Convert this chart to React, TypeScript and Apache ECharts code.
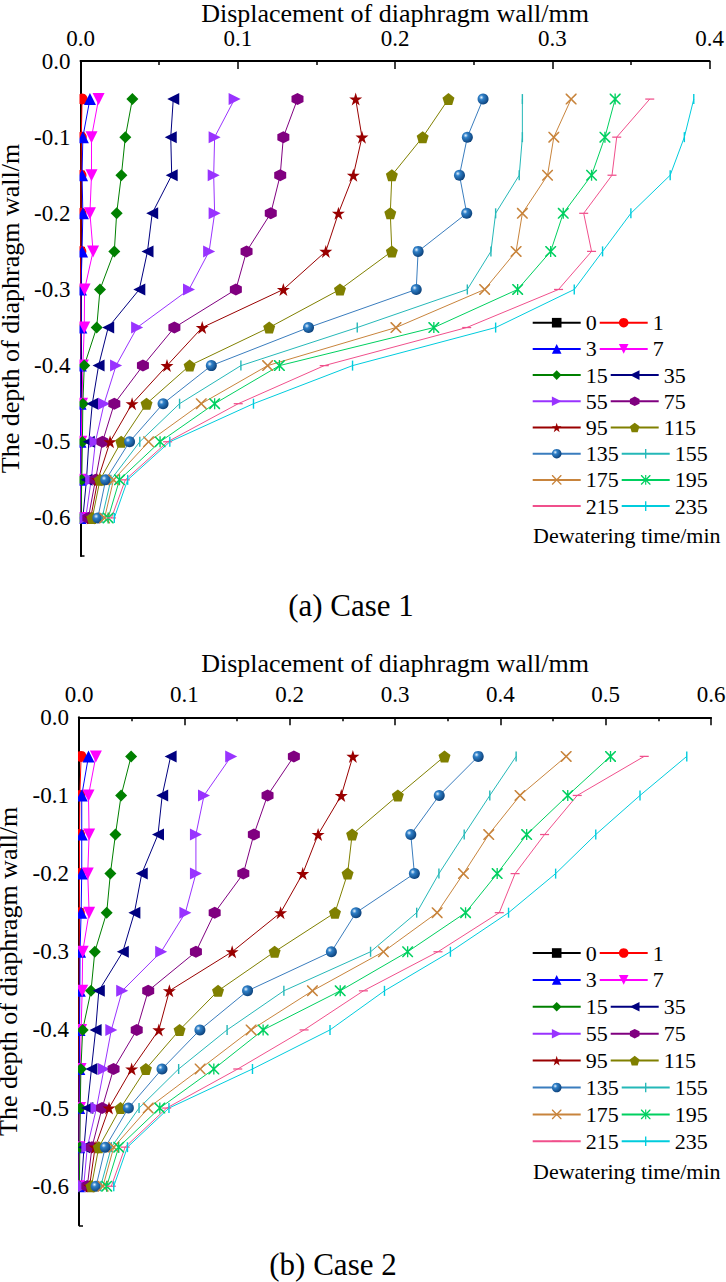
import React, { useEffect, useRef } from 'react';
import * as echarts from 'echarts';

// ---------- data ----------
const DEPTHS = [-0.05, -0.1, -0.15, -0.2, -0.25, -0.3, -0.35, -0.4, -0.45, -0.5, -0.55, -0.6];
const TIMES = ['0', '1', '3', '7', '15', '35', '55', '75', '95', '115', '135', '155', '175', '195', '215', '235'];
const CASE1_XMAX = 0.4;
const CASE2_XMAX = 0.6;
const X_NAME = 'Displacement of diaphragm wall/mm';
const Y_NAME = 'The depth of diaphragm wall/m';
const LEGEND_TITLE = 'Dewatering time/min';
const CAPTIONS = ['(a) Case 1', '(b) Case 2'];

// Case 1 (displacement in mm at each depth)
const c1_0 = [0, 0, 0, 0, 0, 0, 0, 0, 0, 0, 0, 0];
const c1_1 = [0.001, 0.0005, 0.0003, 0.0003, 0.0002, 0.0001, 0.0001, 0, 0, 0, 0, 0];
const c1_3 = [0.006, 0.0015, 0.001, 0.0015, 0.001, 0.0003, 0.0005, 0.0002, 0.0001, 0, 0, 0];
const c1_7 = [0.0115, 0.007, 0.007, 0.006, 0.008, 0.0026, 0.0024, 0.0015, 0.001, 0.0005, 0.0003, 0.0001];
const c1_15 = [0.033, 0.0285, 0.026, 0.023, 0.0215, 0.0124, 0.0103, 0.0024, 0.0015, 0.0012, 0.0008, 0.0003];
const c1_35 = [0.059, 0.0574, 0.058, 0.0456, 0.0426, 0.0374, 0.0176, 0.0115, 0.0075, 0.0053, 0.0038, 0.0015];
const c1_55 = [0.098, 0.0853, 0.0847, 0.0853, 0.0818, 0.069, 0.036, 0.0226, 0.015, 0.0095, 0.0068, 0.0033];
const c1_75 = [0.138, 0.129, 0.127, 0.121, 0.1056, 0.0988, 0.0597, 0.0397, 0.0215, 0.014, 0.0095, 0.005];
const c1_95 = [0.175, 0.179, 0.1735, 0.164, 0.156, 0.129, 0.0774, 0.055, 0.0328, 0.0188, 0.011, 0.0065];
const c1_115 = [0.234, 0.2176, 0.198, 0.197, 0.198, 0.165, 0.12, 0.0694, 0.042, 0.0259, 0.0124, 0.0075];
const c1_135 = [0.256, 0.246, 0.241, 0.2456, 0.2147, 0.2135, 0.145, 0.0832, 0.0525, 0.0312, 0.016, 0.011];
const c1_155 = [0.281, 0.281, 0.279, 0.264, 0.261, 0.246, 0.176, 0.102, 0.063, 0.0377, 0.0193, 0.0137];
const c1_175 = [0.312, 0.301, 0.297, 0.281, 0.277, 0.257, 0.2006, 0.119, 0.0768, 0.0433, 0.021, 0.0153];
const c1_195 = [0.34, 0.3335, 0.325, 0.307, 0.299, 0.278, 0.2247, 0.1265, 0.0853, 0.0506, 0.0248, 0.0176];
const c1_215 = [0.362, 0.341, 0.338, 0.32, 0.325, 0.304, 0.2456, 0.155, 0.1003, 0.0554, 0.0285, 0.0197];
const c1_235 = [0.39, 0.384, 0.375, 0.35, 0.332, 0.314, 0.264, 0.173, 0.11, 0.0568, 0.03, 0.0215];

// Case 2
const c2_0 = [0, 0, 0, 0, 0, 0, 0, 0, 0, 0, 0, 0];
const c2_1 = [0.002, 0.0008, 0.0005, 0.0004, 0.0003, 0.0002, 0.0001, 0, 0, 0, 0, 0];
const c2_3 = [0.009, 0.0026, 0.0026, 0.0026, 0.002, 0.001, 0.0008, 0.0005, 0.0003, 0.0002, 0.0001, 0];
const c2_7 = [0.016, 0.009, 0.0096, 0.0083, 0.0096, 0.0035, 0.003, 0.002, 0.0015, 0.001, 0.0005, 0.0002];
const c2_15 = [0.0495, 0.04, 0.0346, 0.0298, 0.0263, 0.015, 0.0114, 0.0035, 0.0018, 0.0012, 0.0008, 0.0003];
const c2_35 = [0.087, 0.079, 0.075, 0.0596, 0.0526, 0.0416, 0.0188, 0.0158, 0.0118, 0.0079, 0.0048, 0.0022];
const c2_55 = [0.1445, 0.1187, 0.111, 0.111, 0.101, 0.078, 0.041, 0.0307, 0.0237, 0.0166, 0.0079, 0.0044];
const c2_75 = [0.204, 0.179, 0.166, 0.156, 0.1288, 0.111, 0.0657, 0.0548, 0.0328, 0.0219, 0.0123, 0.0079];
const c2_95 = [0.26, 0.249, 0.227, 0.2124, 0.1914, 0.1454, 0.0858, 0.0758, 0.05, 0.0285, 0.0153, 0.01];
const c2_115 = [0.347, 0.3027, 0.2593, 0.255, 0.243, 0.1857, 0.132, 0.0955, 0.0635, 0.0394, 0.0188, 0.0118];
const c2_135 = [0.379, 0.342, 0.315, 0.3184, 0.263, 0.2396, 0.16, 0.1148, 0.0788, 0.0469, 0.025, 0.0162];
const c2_155 = [0.415, 0.39, 0.3657, 0.3417, 0.3206, 0.2768, 0.1945, 0.1406, 0.0946, 0.057, 0.0307, 0.0206];
const c2_175 = [0.4625, 0.4187, 0.389, 0.365, 0.34, 0.289, 0.2216, 0.1634, 0.115, 0.0657, 0.033, 0.0228];
const c2_195 = [0.5046, 0.464, 0.425, 0.397, 0.367, 0.312, 0.248, 0.1748, 0.128, 0.0767, 0.0377, 0.0263];
const c2_215 = [0.5366, 0.473, 0.442, 0.414, 0.399, 0.3408, 0.27, 0.2137, 0.1507, 0.0832, 0.0438, 0.0307];
const c2_235 = [0.577, 0.5326, 0.4906, 0.4525, 0.4078, 0.3526, 0.29, 0.2383, 0.1647, 0.0854, 0.046, 0.033];

const CASE1 = [c1_0, c1_1, c1_3, c1_7, c1_15, c1_35, c1_55, c1_75, c1_95, c1_115, c1_135, c1_155, c1_175, c1_195, c1_215, c1_235];
const CASE2 = [c2_0, c2_1, c2_3, c2_7, c2_15, c2_35, c2_55, c2_75, c2_95, c2_115, c2_135, c2_155, c2_175, c2_195, c2_215, c2_235];

// ---------- styles ----------
const FONT = 'Liberation Serif, Times New Roman, DejaVu Serif, serif';

const COLORS = [
  '#000000', '#FF0000', '#0000FF', '#FF00FF', '#008000', '#000080', '#9933FF', '#800080',
  '#990000', '#808000', '#3A7DBE', '#25B8B8', '#C8843C', '#00D060', '#F0508C', '#00CCDD',
];

const P_TRI_DOWN = 'path://M0,0L10,0L5,10Z';
const P_TRI_LEFT = 'path://M10,0L10,10L0,5Z';
const P_TRI_RIGHT = 'path://M0,0L10,5L0,10Z';
const P_HEX = 'path://M5,0L9.33,2.5L9.33,7.5L5,10L0.67,7.5L0.67,2.5Z';
const P_PENT = 'path://M5,0L10,3.8L8.1,10L1.9,10L0,3.8Z';
const P_STAR = 'path://M5,0L6.12,3.45L9.76,3.45L6.82,5.59L7.94,9.05L5,6.91L2.06,9.05L3.18,5.59L0.24,3.45L3.88,3.45Z';
const P_VBAR = 'path://M0,0L0,0M10,10L10,10M4.3,0H5.7V10H4.3Z';
const P_HBAR = 'path://M0,0L0,0M10,10L10,10M0,4.3H10V5.7H0Z';
const P_X = 'path://M0,0L1,0L5,4L9,0L10,0L10,1L6,5L10,9L10,10L9,10L5,6L1,10L0,10L0,9L4,5L0,1Z';
const P_AST = 'path://M0,0L1,0L5,4L9,0L10,0L10,1L6,5L10,9L10,10L9,10L5,6L1,10L0,10L0,9L4,5L0,1Z M4.4,0H5.6V10H4.4Z';

const SYMBOLS = [
  'rect', 'circle', 'triangle', P_TRI_DOWN, 'diamond', P_TRI_LEFT, P_TRI_RIGHT, P_HEX,
  P_STAR, P_PENT, 'circle', P_VBAR, P_X, P_AST, P_HBAR, P_VBAR,
];
const SIZES = [9, 11, 12, 12, 12, 12, 12, 12, 13, 12, 11, 10, 11, 11, 9, 10];

const sphere = {
  type: 'radial', x: 0.35, y: 0.35, r: 0.7,
  colorStops: [
    { offset: 0, color: '#e8f4ff' },
    { offset: 0.3, color: '#2f80c8' },
    { offset: 1, color: '#0b3f78' },
  ],
};

const GRIDS = [
  { left: 80.5, top: 61, width: 629, height: 495, outerBoundsMode: 'none', containLabel: false },
  { left: 79, top: 717.3, width: 632, height: 508, outerBoundsMode: 'none', containLabel: false },
];
const X_NAME_GAPS = [35, 41];
const Y_NAME_GAPS = [51, 50];
const LEGEND_LEFT = 531.7;
const LEGEND_ROWS = [
  { base: 322.7, step: 26.2, title: 535 },
  { base: 953, step: 26.9, title: 1171 },
];

function buildOption() {
  const xAxis = [CASE1_XMAX, CASE2_XMAX].map((mx, i) => ({
    type: 'value', gridIndex: i, position: 'top', min: 0, max: mx, interval: 0.1,
    name: X_NAME, nameLocation: 'middle', nameGap: X_NAME_GAPS[i],
    nameTextStyle: { fontSize: 26, color: '#000', fontFamily: FONT },
    axisLine: { show: true, lineStyle: { color: '#000', width: 2 } },
    axisTick: { show: true, inside: true, length: 8, lineStyle: { color: '#000', width: 1.5 } },
    minorTick: { show: true, splitNumber: 2, length: 4, lineStyle: { color: '#000', width: 1.5 } },
    splitLine: { show: false },
    minorSplitLine: { show: false },
    axisLabel: { fontSize: 23, color: '#000', fontFamily: FONT, margin: 11, formatter: (v: number) => v.toFixed(1) },
  }));
  const yAxis = [0, 1].map((i) => ({
    type: 'value', gridIndex: i, min: -0.65, max: 0, interval: 0.05,
    name: Y_NAME, nameLocation: 'middle', nameGap: Y_NAME_GAPS[i],
    nameTextStyle: { fontSize: 26, color: '#000', fontFamily: FONT },
    axisLine: { show: true, lineStyle: { color: '#000', width: 2 } },
    axisTick: { show: true, inside: true, length: 4, lineStyle: { color: '#000', width: 1.5 } },
    splitLine: { show: false },
    axisLabel: {
      fontSize: 23, color: '#000', fontFamily: FONT, margin: 10,
      formatter: (v: number) => (Math.abs(Math.round(v * 100)) % 10 === 0 ? v.toFixed(1) : ''),
    },
  }));

  const series: any[] = [];
  [CASE1, CASE2].forEach((cs, p) => {
    cs.forEach((vals, j) => {
      series.push({
        type: 'line',
        name: TIMES[j],
        xAxisIndex: p,
        yAxisIndex: p,
        data: DEPTHS.map((d, k) => [vals[k], d]),
        symbol: SYMBOLS[j],
        symbolSize: SIZES[j],
        showSymbol: true,
        itemStyle: { color: j === 10 ? sphere : COLORS[j] },
        lineStyle: { color: COLORS[j], width: 1 },
        emphasis: { disabled: true },
        animation: false,
      });
    });
  });

  const legend: any[] = [];
  LEGEND_ROWS.forEach((lr) => {
    for (let r = 0; r < 8; r++) {
      legend.push({
        data: [TIMES[2 * r], TIMES[2 * r + 1]],
        left: LEGEND_LEFT,
        top: lr.base + lr.step * r - 11,
        orient: 'horizontal',
        itemWidth: 48,
        itemHeight: 12,
        itemGap: 2,
        padding: 0,
        selectedMode: false,
        textStyle: { fontSize: 22, color: '#000', fontFamily: FONT },
      });
    }
  });

  const txt = (text: string, x: number, y: number, size: number, align: string) => ({
    type: 'text', x, y,
    style: { text, fontSize: size, fontFamily: FONT, fill: '#000', textAlign: align, textVerticalAlign: 'middle', align, verticalAlign: 'middle' },
  });

  // white masks that hide the part of the markers lying left of each y axis (plot clipping)
  const masks = GRIDS.map((g) => ({
    type: 'rect', z: 50, silent: true,
    shape: { x: g.left - 8.5, y: g.top + 2, width: 7.5, height: g.height - 2 },
    style: { fill: '#ffffff' },
  }));

  const graphic: any[] = [
    ...masks,
    ...LEGEND_ROWS.map((lr) => txt(LEGEND_TITLE, 533, lr.title, 22, 'left')),
    txt(CAPTIONS[0], 351, 605.5, 31, 'center'),
    txt(CAPTIONS[1], 333, 1264, 31, 'center'),
  ];

  return {
    animation: false,
    backgroundColor: '#ffffff',
    textStyle: { fontFamily: FONT },
    grid: GRIDS,
    xAxis,
    yAxis,
    legend,
    graphic,
    series,
  };
}

export default function App() {
  const ref = useRef<HTMLDivElement>(null);
  useEffect(() => {
    document.body.style.margin = '0';
    if (!ref.current) return;
    const chart = echarts.init(ref.current, undefined, { renderer: 'svg' });
    chart.setOption(buildOption() as any);
    return () => chart.dispose();
  }, []);
  return <div ref={ref} style={{ position: 'absolute', left: 0, top: 0, width: 726, height: 1282, background: '#fff' }} />;
}
